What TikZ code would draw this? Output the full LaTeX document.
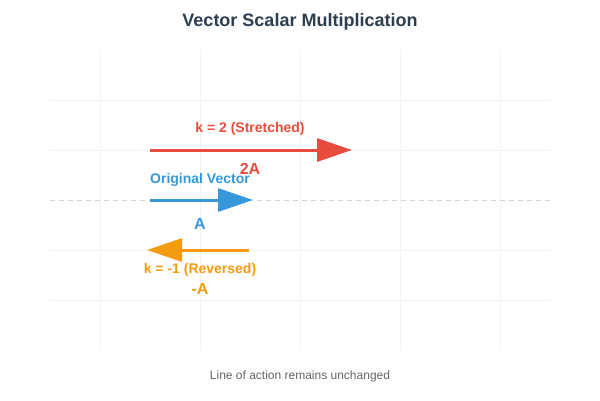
\documentclass[tikz,border=0pt]{standalone}
\usepackage{fontspec}
\setmainfont{Liberation Sans}
\usetikzlibrary{arrows.meta}
\definecolor{vred}{HTML}{E74C3C}
\definecolor{vblue}{HTML}{3498DB}
\definecolor{vorange}{HTML}{F39C12}
\definecolor{vtitle}{HTML}{2C3E50}
\newcommand{\headlen}{35pt}

\begin{document}
\begin{tikzpicture}[x=1pt, y=-1pt,
  gridline/.style={draw=black!5, line width=0.8pt},
  axisline/.style={draw=black!18, line width=1pt, dash pattern=on 5pt off 4pt},
  vecarrow/.style={line width=3pt, -{Triangle[length=\headlen, width=23pt]}},
  vlabel/.style={font=\bfseries\fontsize{14}{16}\selectfont},
  vname/.style={font=\bfseries\fontsize{16}{18}\selectfont}]
  \fill[white] (0,0) rectangle (600,400);
  \useasboundingbox (0,0) rectangle (600,400);
  \foreach \x in {100,200,...,500}
    \draw[gridline] (\x,50) -- (\x,350);
  \foreach \y in {100,150,250,300}
    \draw[gridline] (50,\y) -- (550,\y);
  \draw[axisline] (50,200) -- (550,200);

  \coordinate (twostart) at (150,150);
  \coordinate (twoend) at (352,150);
  \coordinate (onestart) at (150,200);
  \coordinate (oneend) at (253,200);
  \coordinate (negstart) at (249,250);
  \coordinate (negend) at (147,250);
  \draw[vecarrow, vred] (twostart) -- (twoend);
  \draw[vecarrow, vblue] (onestart) -- (oneend);
  \draw[vecarrow, vorange] (negstart) -- (negend);

  \node[vlabel, text=vred] (twolabel) at (250,129) {k = 2 (Stretched)};
  \node[vname, text=vred] (twoname) at (250,169) {2A};
  \node[vlabel, text=vblue] (onelabel) at (200,180) {Original Vector};
  \node[vname, text=vblue] (onename) at (200,224) {A};
  \node[vlabel, text=vorange] (neglabel) at (200,270) {k = -1 (Reversed)};
  \node[vname, text=vorange] (negname) at (200,289) {-A};

  \node[font=\bfseries\fontsize{18}{20}\selectfont, text=vtitle] (title) at (300,22) {Vector Scalar Multiplication};
  \node[font=\fontsize{12}{14}\selectfont, text=black!60] (note) at (300,376) {Line of action remains unchanged};
\end{tikzpicture}
\end{document}
